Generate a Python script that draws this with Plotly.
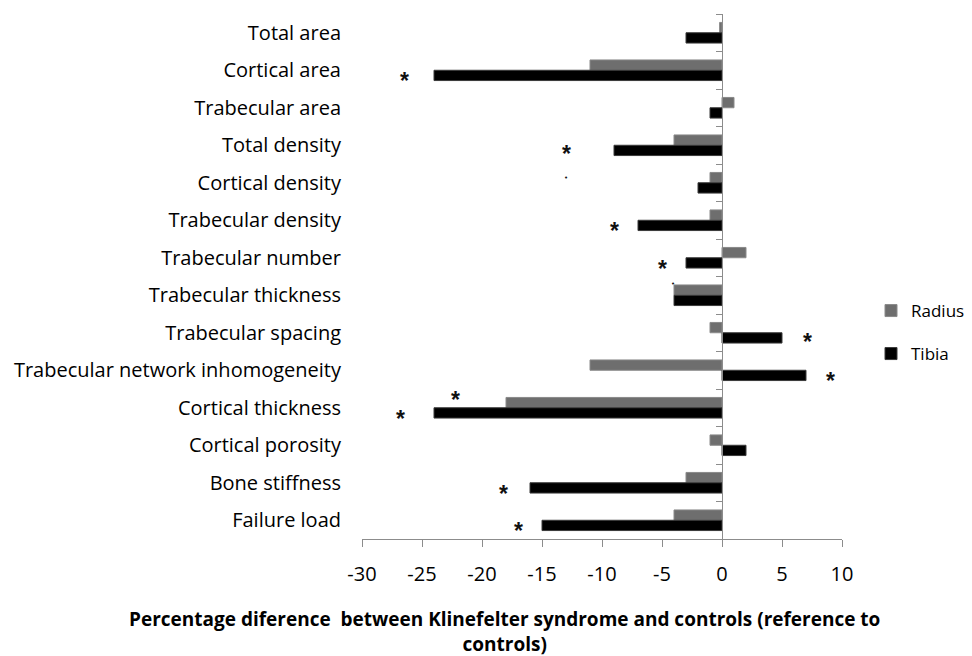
import plotly.graph_objects as go

# the page body has an 8px margin: the figure's top-left sits at (8, 8)
OFF_X, OFF_Y = 8, 8
W, H = 972 - OFF_X, 656 - OFF_Y

categories = [
    "Total area", "Cortical area", "Trabecular area", "Total density",
    "Cortical density", "Trabecular density", "Trabecular number",
    "Trabecular thickness", "Trabecular spacing",
    "Trabecular network inhomogeneity", "Cortical thickness",
    "Cortical porosity", "Bone stiffness", "Failure load",
]
radius = [-0.2, -11, 1, -4, -1, -1, 2, -4, -1, -11, -18, -1, -3, -4]
tibia = [-3, -24, -1, -9, -2, -7, -3, -4, 5, 7, -24, 2, -16, -15]
x_ticks = [-30, -25, -20, -15, -10, -5, 0, 5, 10]
x_tick_labels = ["-30", "-25", "-20", "-15", "-10", "-5", "0", "5", "10"]

# significance marks
mark_category = [
    "Cortical area", "Total density", "Cortical density", "Trabecular density",
    "Trabecular number", "Trabecular thickness", "Trabecular spacing",
    "Trabecular network inhomogeneity", "Cortical thickness",
    "Cortical thickness", "Bone stiffness", "Failure load",
]
mark_series = [
    "Tibia", "Tibia", "Radius", "Tibia", "Tibia", "Radius", "Tibia",
    "Tibia", "Radius", "Tibia", "Tibia", "Tibia",
]
mark_x = [-26.5, -13, -13, -9, -5, -4.1, 7.1, 9, -22.2, -26.8, -18.2, -17]
mark_text = ["*", "*", ".", "*", "*", ".", "*", "*", "*", "*", "*", "*"]
mark_raise = [0, 2, 0, 0, 0, 6, 2, 0, 9, 0, 0, 0]

AXIS_GREY = "#8c8c8c"
FONT = "Open Sans"


def px_x(x):
    return (x - OFF_X) / W


def px_y(y):
    return 1 - (y - OFF_Y) / H


x0_px, x1_px = 362, 842
y0_px, y1_px = 14, 539
xdom = [px_x(x0_px), px_x(x1_px)]
ydom = [px_y(y1_px), px_y(y0_px)]
xmin, xmax = x_ticks[0], x_ticks[-1]
zero_pos = xdom[0] + (0 - xmin) / (xmax - xmin) * (xdom[1] - xdom[0])
y_range = [len(categories) - 0.5, -0.5]

fig = go.Figure()
fig.add_trace(go.Bar(
    y=categories, x=radius, orientation="h", name="Radius",
    marker=dict(color="#6e6e6e", line=dict(color="#8a8a8a", width=1)),
    legend="legend",
))
fig.add_trace(go.Bar(
    y=categories, x=tibia, orientation="h", name="Tibia",
    marker=dict(color="#000000", line=dict(color="#3a3a3a", width=1)),
    legend="legend2",
))
# invisible trace carrying the zero-line category axis
fig.add_trace(go.Scatter(
    y=categories, x=[0] * len(categories), yaxis="y2", mode="markers",
    marker=dict(opacity=0), showlegend=False, hoverinfo="skip",
))

series_shift = {"Radius": 5, "Tibia": -5}
for cat, ser, xv, txt, rz in zip(mark_category, mark_series, mark_x, mark_text, mark_raise):
    if txt == "*":
        fig.add_annotation(
            x=xv, y=cat, xref="x", yref="y", text="<b>*</b>", showarrow=False,
            font=dict(family="Liberation Sans", size=23, color="#111"),
            yshift=series_shift[ser] + rz - 6,
        )
    else:
        fig.add_annotation(
            x=xv, y=cat, xref="x", yref="y", text="•", showarrow=False,
            font=dict(family="DejaVu Sans", size=7, color="#111"),
            yshift=series_shift[ser] + rz,
        )

fig.add_annotation(
    x=px_x(505), y=px_y(631), xref="paper", yref="paper",
    xanchor="center", yanchor="middle",
    text="Percentage diference  between Klinefelter syndrome and controls (reference to<br>controls)",
    showarrow=False, align="center",
    font=dict(family=FONT, size=19, color="#000", weight="bold"),
)

fig.update_layout(
    width=W, height=H,
    margin=dict(l=0, r=0, t=0, b=0, autoexpand=False),
    paper_bgcolor="white", plot_bgcolor="white",
    barmode="group", bargap=0.45, bargroupgap=0,
    font=dict(family=FONT, size=20, color="#000"),
    xaxis=dict(
        domain=xdom, range=[xmin, xmax], tickvals=x_ticks,
        ticktext=x_tick_labels,
        showgrid=False, zeroline=False, showline=True, linecolor=AXIS_GREY,
        linewidth=1, ticks="outside", ticklen=7, tickcolor=AXIS_GREY,
        tickfont=dict(size=20), ticklabelstandoff=10, automargin=False,
        anchor="y",
    ),
    yaxis=dict(
        domain=ydom, type="category", categoryarray=categories,
        range=y_range, autorange=False, showgrid=False, zeroline=False,
        showline=False, ticks="", ticklabelstandoff=20,
        tickfont=dict(size=20), automargin=False, anchor="x",
    ),
    yaxis2=dict(
        overlaying="y", matches="y", anchor="free", position=zero_pos,
        type="category", categoryarray=categories, showticklabels=False,
        showgrid=False, zeroline=False, showline=True, linecolor=AXIS_GREY,
        linewidth=1, ticks="outside", tickson="boundaries", ticklen=6,
        tickcolor=AXIS_GREY,
    ),
    legend=dict(
        x=px_x(871), y=px_y(311), xanchor="left", yanchor="middle",
        font=dict(size=17), bgcolor="rgba(0,0,0,0)",
    ),
    legend2=dict(
        x=px_x(871), y=px_y(354), xanchor="left", yanchor="middle",
        font=dict(size=17), bgcolor="rgba(0,0,0,0)",
    ),
    showlegend=True,
)

fig.write_html("out.html")
